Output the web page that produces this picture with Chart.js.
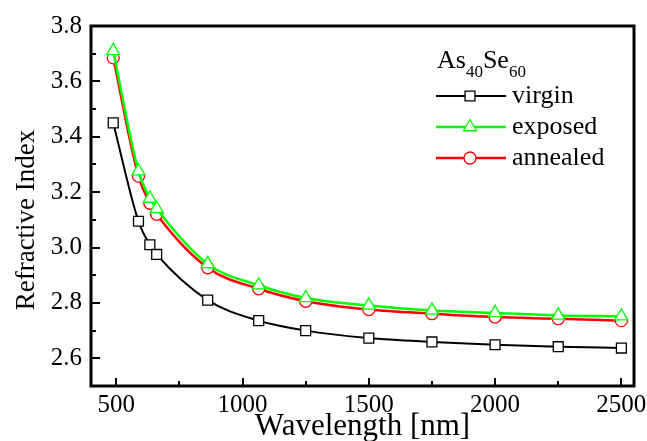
<!DOCTYPE html>
<html>
<head>
<meta charset="utf-8">
<script src="https://cdn.jsdelivr.net/npm/chart.js@4"></script>
<style>
  html, body { margin: 0; padding: 0; background: #ffffff; }
  #chart { display: block; }
</style>
</head>
<body>
<canvas id="chart" width="647" height="441"></canvas>
<script>
const wavelengths = [488, 588, 633, 660, 862, 1064, 1250, 1500, 1750, 2000, 2250, 2500];
const virgin = [3.45, 3.095, 3.01, 2.975, 2.81, 2.736, 2.70, 2.673, 2.659, 2.649, 2.642, 2.637];
const exposed = [3.71, 3.276, 3.177, 3.14, 2.941, 2.864, 2.818, 2.791, 2.773, 2.764, 2.755, 2.752];
const annealed = [3.685, 3.258, 3.16, 3.12, 2.927, 2.851, 2.806, 2.776, 2.761, 2.749, 2.743, 2.736];

const xTicks = [500, 1000, 1500, 2000, 2500];
const xMinorTicks = [750, 1250, 1750, 2250];
const yTicks = [2.6, 2.8, 3.0, 3.2, 3.4, 3.6, 3.8];
const yMinorTicks = [2.5, 2.7, 2.9, 3.1, 3.3, 3.5, 3.7];

const xTitle = 'Wavelength [nm]';
const yTitle = 'Refractive Index';
const legendTitle = ['As', '40', 'Se', '60'];
const seriesNames = ['virgin', 'exposed', 'annealed'];

const FONT = "'Liberation Serif', 'Times New Roman', serif";

function makeDataset(label, values, color, pointStyle, radius, width, order) {
  return {
    label,
    data: wavelengths.map((w, i) => ({ x: w, y: values[i] })),
    borderColor: color,
    backgroundColor: '#ffffff',
    pointBackgroundColor: '#ffffff',
    pointBorderColor: color,
    pointBorderWidth: 1.3,
    pointStyle,
    pointRadius: radius,
    borderWidth: width,
    cubicInterpolationMode: 'monotone',
    fill: false,
    order
  };
}

// frame, inward ticks, axis titles and the legend block
const framePlugin = {
  id: 'frame',
  afterDraw(chart) {
    const { ctx, chartArea: a, scales } = chart;
    const xs = scales.x;
    const ys = scales.y;
    ctx.save();
    ctx.strokeStyle = '#000';
    ctx.lineWidth = 3;
    ctx.strokeRect(a.left, a.top, a.right - a.left, a.bottom - a.top);

    ctx.lineWidth = 2;
    ctx.beginPath();
    xTicks.forEach(v => {
      const px = Math.round(xs.getPixelForValue(v));
      ctx.moveTo(px, a.bottom); ctx.lineTo(px, a.bottom - 8);
    });
    xMinorTicks.forEach(v => {
      const px = Math.round(xs.getPixelForValue(v));
      ctx.moveTo(px, a.bottom); ctx.lineTo(px, a.bottom - 5);
    });
    yTicks.forEach(v => {
      const py = Math.round(ys.getPixelForValue(v));
      ctx.moveTo(a.left, py); ctx.lineTo(a.left + 9, py);
    });
    yMinorTicks.forEach(v => {
      const py = Math.round(ys.getPixelForValue(v));
      ctx.moveTo(a.left, py); ctx.lineTo(a.left + 5, py);
    });
    ctx.stroke();

    // axis titles
    ctx.fillStyle = '#000';
    ctx.textAlign = 'center';
    ctx.textBaseline = 'alphabetic';
    ctx.font = `31px ${FONT}`;
    ctx.fillText(xTitle, (a.left + a.right) / 2, 435);
    ctx.save();
    ctx.translate(34, 220);
    ctx.rotate(-Math.PI / 2);
    ctx.font = `27px ${FONT}`;
    ctx.fillText(yTitle, 0, 0);
    ctx.restore();

    // legend
    ctx.textAlign = 'left';
    let tx = 437;
    ctx.font = `26px ${FONT}`;
    ctx.fillText(legendTitle[0], tx, 68);
    tx += ctx.measureText(legendTitle[0]).width;
    ctx.font = `17px ${FONT}`;
    ctx.fillText(legendTitle[1], tx, 77);
    tx += ctx.measureText(legendTitle[1]).width;
    ctx.font = `26px ${FONT}`;
    ctx.fillText(legendTitle[2], tx, 68);
    tx += ctx.measureText(legendTitle[2]).width;
    ctx.font = `17px ${FONT}`;
    ctx.fillText(legendTitle[3], tx, 77);

    seriesNames.forEach((name, row) => {
      const ds = chart.data.datasets[row];
      const y = 96 + row * 31;
      ctx.strokeStyle = ds.borderColor;
      ctx.lineWidth = ds.borderWidth;
      ctx.beginPath();
      ctx.moveTo(436, y); ctx.lineTo(506, y);
      ctx.stroke();
      ctx.fillStyle = '#ffffff';
      ctx.strokeStyle = ds.pointBorderColor;
      ctx.lineWidth = ds.pointBorderWidth;
      Chart.helpers.drawPoint(ctx, {
        pointStyle: ds.pointStyle,
        radius: ds.pointRadius,
        rotation: 0,
        borderWidth: ds.pointBorderWidth
      }, 470, y);
      ctx.fillStyle = '#000';
      ctx.font = `26px ${FONT}`;
      ctx.textBaseline = 'middle';
      ctx.fillText(name, 512, y);
      ctx.textBaseline = 'alphabetic';
    });
    ctx.restore();
  }
};

new Chart(document.getElementById('chart'), {
  type: 'line',
  data: {
    datasets: [
      makeDataset(seriesNames[0], virgin, '#000000', 'rect', 7, 2, 2),
      makeDataset(seriesNames[1], exposed, '#00ff00', 'triangle', 7.5, 2.5, 0),
      makeDataset(seriesNames[2], annealed, '#ff0000', 'circle', 6, 2.5, 1)
    ]
  },
  options: {
    responsive: false,
    animation: false,
    devicePixelRatio: 1,
    layout: { padding: { top: 26, right: 13, left: 0, bottom: 0 } },
    plugins: {
      legend: { display: false },
      tooltip: { enabled: false }
    },
    scales: {
      x: {
        type: 'linear',
        min: 400,
        max: 2550,
        afterBuildTicks: scale => { scale.ticks = xTicks.map(v => ({ value: v })); },
        afterFit: scale => {
          scale.height = 55;
          scale.paddingLeft = 0;
          scale.paddingRight = 0;
        },
        grid: { display: false, drawTicks: false },
        border: { display: false },
        ticks: {
          color: '#000',
          padding: 4,
          maxRotation: 0,
          font: { family: FONT, size: 25 },
          callback: v => String(v)
        }
      },
      y: {
        type: 'linear',
        min: 2.5,
        max: 3.8,
        afterBuildTicks: scale => { scale.ticks = yTicks.map(v => ({ value: v })); },
        afterFit: scale => {
          scale.width = 91;
          scale.paddingTop = 0;
          scale.paddingBottom = 0;
        },
        grid: { display: false, drawTicks: false },
        border: { display: false },
        ticks: {
          color: '#000',
          padding: 9,
          font: { family: FONT, size: 25 },
          callback: v => Number(v).toFixed(1)
        }
      }
    }
  },
  plugins: [framePlugin]
});
</script>
</body>
</html>
